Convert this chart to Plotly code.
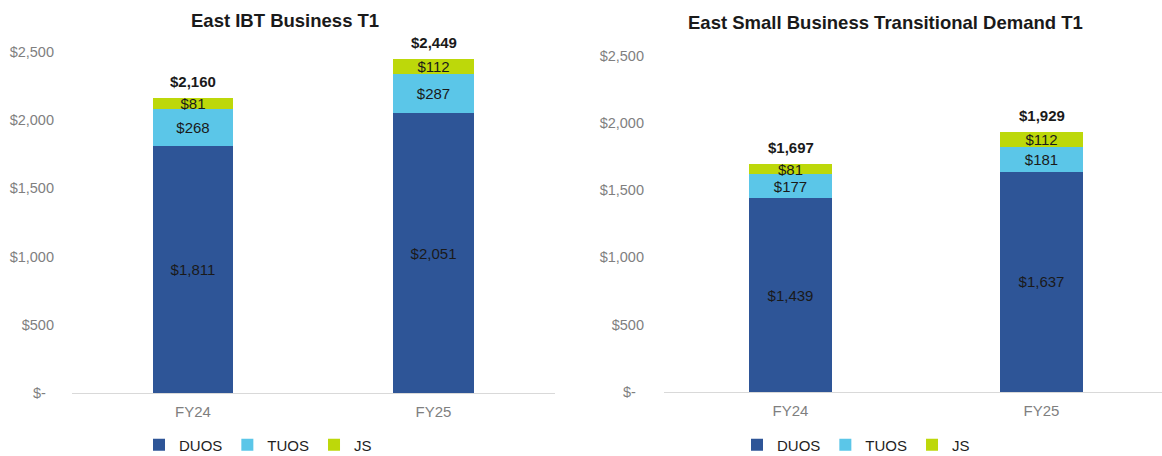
import plotly.graph_objects as go

categories = ["FY24", "FY25"]
series_names = ["DUOS", "TUOS", "JS"]
colors = ["#2E5597", "#5BC6E8", "#BDD80A"]

left_title = "East IBT Business T1"
left_duos = [1811, 2051]
left_tuos = [268, 287]
left_js = [81, 112]
left_total = [2160, 2449]

right_title = "East Small Business Transitional Demand T1"
right_duos = [1439, 1637]
right_tuos = [177, 181]
right_js = [81, 112]
right_total = [1697, 1929]

y_ticks = [0, 500, 1000, 1500, 2000, 2500]
y_ticktext = ["$-\u00a0\u00a0", "$500", "$1,000", "$1,500", "$2,000", "$2,500"]

W, H = 1162, 456
FONT = "Arial, Liberation Sans, sans-serif"


def money(v):
    return "${:,}".format(v)


fig = go.Figure()

panels = [
    (left_duos, left_tuos, left_js, left_total, "x", "y", "legend"),
    (right_duos, right_tuos, right_js, right_total, "x2", "y2", "legend2"),
]

annotations = []
for duos, tuos, js, total, xa, ya, leg in panels:
    for name, vals, col in zip(series_names, [duos, tuos, js], colors):
        fig.add_trace(go.Bar(
            x=categories, y=vals, name=name,
            marker=dict(color=col, line=dict(width=0)),
            text=[money(v) for v in vals],
            textposition="inside", insidetextanchor="middle",
            constraintext="none", textangle=0,
            textfont=dict(family=FONT, size=15, color="#1a1a1a"),
            xaxis=xa, yaxis=ya, legend=leg,
            hoverinfo="skip",
        ))
    for c, t in zip(categories, total):
        annotations.append(dict(
            x=c, y=t, xref=xa, yref=ya, text="<b>" + money(t) + "</b>",
            showarrow=False, yanchor="bottom", yshift=6,
            font=dict(family=FONT, size=15, color="#1a1a1a"),
        ))

annotations.append(dict(x=285 / W, y=1 - 21 / H, xref="paper", yref="paper",
                        text="<b>" + left_title + "</b>", showarrow=False,
                        xanchor="center", yanchor="middle",
                        font=dict(family=FONT, size=18.5, color="#1a1a1a")))
annotations.append(dict(x=886 / W, y=1 - 23 / H, xref="paper", yref="paper",
                        text="<b>" + right_title + "</b>", showarrow=False,
                        xanchor="center", yanchor="middle",
                        font=dict(family=FONT, size=18.5, color="#1a1a1a")))

yaxis_common = dict(range=[0, 2500], tickvals=y_ticks, ticktext=y_ticktext,
                    showgrid=False, zeroline=False, showline=False, ticks="",
                    tickfont=dict(family=FONT, size=14.5, color="#7f7f7f"),
                    fixedrange=True, automargin=False)
xaxis_common = dict(type="category", showgrid=False, zeroline=False,
                    showline=True, linecolor="#d9d9d9", linewidth=1, ticks="",
                    tickfont=dict(family=FONT, size=15, color="#7f7f7f"),
                    ticklabelstandoff=5, fixedrange=True, automargin=False)

legend_common = dict(orientation="h", yanchor="middle", xanchor="center",
                     traceorder="normal",
                     font=dict(family=FONT, size=15, color="#1f1f1f"),
                     bgcolor="rgba(0,0,0,0)", borderwidth=0)

fig.update_layout(
    width=W, height=H, autosize=False,
    margin=dict(l=0, r=0, t=0, b=0, autoexpand=False),
    paper_bgcolor="white", plot_bgcolor="white",
    barmode="stack", bargap=0.667,
    xaxis=dict(domain=[72 / W, 555 / W], range=[-0.503, 1.505], anchor="y", **xaxis_common),
    yaxis=dict(domain=[63 / H, 404 / H], anchor="x", ticklabelstandoff=17, **yaxis_common),
    xaxis2=dict(domain=[664 / W, 1.0], range=[-0.504, 1.48], anchor="y2", **xaxis_common),
    yaxis2=dict(domain=[64 / H, 400.5 / H], anchor="x2", ticklabelstandoff=19, **yaxis_common),
    legend=dict(x=258 / W, y=11 / H, **legend_common),
    legend2=dict(x=856 / W, y=11 / H, **legend_common),
    annotations=annotations,
    showlegend=True,
)

fig.write_html(
    "out.html",
    config={"displayModeBar": False},
    post_script="document.body.style.margin='0';document.body.style.overflow='hidden';",
)
